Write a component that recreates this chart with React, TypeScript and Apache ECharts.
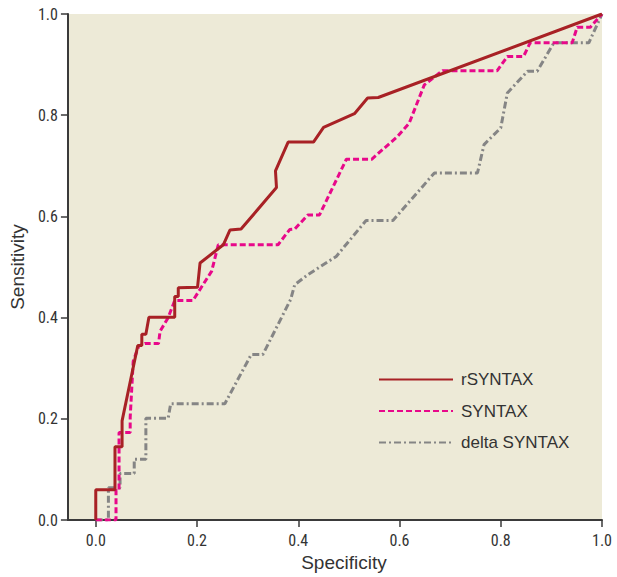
import React, { useEffect, useRef } from "react";
import * as echarts from "echarts";

const seriesNames = ["rSYNTAX", "SYNTAX", "delta SYNTAX"];

const rSyntaxSpec = [0, 0, 0.038, 0.038, 0.052, 0.052, 0.083, 0.091, 0.091, 0.099, 0.105, 0.156, 0.156, 0.163, 0.163, 0.201, 0.206, 0.252, 0.265, 0.287, 0.357, 0.355, 0.38, 0.43, 0.45, 0.511, 0.537, 0.558, 1];
const rSyntaxSens = [0, 0.06, 0.06, 0.145, 0.145, 0.196, 0.345, 0.345, 0.367, 0.367, 0.401, 0.401, 0.442, 0.442, 0.459, 0.46, 0.508, 0.544, 0.573, 0.575, 0.657, 0.69, 0.747, 0.747, 0.776, 0.803, 0.834, 0.835, 1];

const syntaxSpec = [0, 0.04, 0.04, 0.046, 0.046, 0.068, 0.068, 0.074, 0.085, 0.097, 0.124, 0.127, 0.143, 0.156, 0.192, 0.229, 0.242, 0.36, 0.383, 0.393, 0.419, 0.442, 0.495, 0.545, 0.596, 0.619, 0.649, 0.685, 0.793, 0.813, 0.845, 0.858, 0.941, 0.951, 0.977, 1];
const syntaxSens = [0, 0, 0.058, 0.058, 0.173, 0.173, 0.203, 0.314, 0.344, 0.349, 0.349, 0.373, 0.4, 0.434, 0.434, 0.492, 0.544, 0.544, 0.574, 0.575, 0.603, 0.603, 0.713, 0.713, 0.758, 0.784, 0.86, 0.888, 0.888, 0.916, 0.916, 0.943, 0.943, 0.974, 0.974, 1];

const deltaSpec = [0, 0.025, 0.025, 0.048, 0.048, 0.076, 0.076, 0.099, 0.099, 0.143, 0.148, 0.255, 0.307, 0.33, 0.385, 0.393, 0.419, 0.475, 0.534, 0.587, 0.669, 0.754, 0.767, 0.8, 0.813, 0.853, 0.872, 0.905, 0.974, 1];
const deltaSens = [0, 0, 0.064, 0.064, 0.092, 0.092, 0.12, 0.12, 0.201, 0.201, 0.23, 0.23, 0.327, 0.327, 0.436, 0.465, 0.485, 0.521, 0.592, 0.592, 0.686, 0.686, 0.742, 0.775, 0.844, 0.887, 0.887, 0.943, 0.943, 1];

const tickValues = [0, 0.2, 0.4, 0.6, 0.8, 1.0];

const pairs = (xs: number[], ys: number[]) => xs.map((x, i) => [x, ys[i]]);

const AXIS_COLOR = "#3a3a3a";
const NARROW = "'Liberation Sans Narrow', 'Roboto Condensed', Roboto, sans-serif";
const SANS = "'Liberation Sans', Arial, sans-serif";

export default function App() {
  const ref = useRef<HTMLDivElement>(null);
  useEffect(() => {
    if (!ref.current) return;
    const chart = echarts.init(ref.current, undefined, { renderer: "svg" });
    chart.setOption({
      animation: false,
      backgroundColor: "#ffffff",
      grid: {
        left: 66,
        right: 15,
        top: 14,
        bottom: 56,
        show: true,
        backgroundColor: "#edead7",
        borderWidth: 0,
      },
      legend: {
        orient: "vertical",
        left: 373,
        top: 366,
        itemWidth: 74,
        itemHeight: 14,
        itemGap: 14.5,
        data: seriesNames,
        itemStyle: { opacity: 0 },
        textStyle: { fontFamily: SANS, fontSize: 17, color: "#333", padding: [0, 0, 0, 3] },
      },
      xAxis: {
        type: "value",
        min: -0.055,
        max: 1,
        name: "Specificity",
        nameLocation: "middle",
        nameGap: 32,
        nameTextStyle: { fontFamily: SANS, fontSize: 19, color: "#333", padding: [0, 0, 0, 18] },
        axisLine: { show: true, onZero: false, lineStyle: { color: AXIS_COLOR, width: 2 } },
        axisTick: { show: true, length: 7, customValues: tickValues, lineStyle: { color: AXIS_COLOR, width: 1.5 } },
        axisLabel: {
          customValues: tickValues,
          formatter: (v: number) => v.toFixed(1),
          margin: 12,
          fontFamily: NARROW,
          fontSize: 16,
          color: "#333",
        },
        splitLine: { show: false },
      },
      yAxis: {
        type: "value",
        min: 0,
        max: 1,
        interval: 0.2,
        name: "Sensitivity",
        nameLocation: "middle",
        nameGap: 32,
        nameTextStyle: { fontFamily: SANS, fontSize: 19, color: "#333" },
        axisLine: { show: true, onZero: false, lineStyle: { color: AXIS_COLOR, width: 2 } },
        axisTick: { show: true, length: 7, lineStyle: { color: AXIS_COLOR, width: 1.5 } },
        axisLabel: {
          formatter: (v: number) => v.toFixed(1),
          margin: 10,
          fontFamily: NARROW,
          fontSize: 16,
          color: "#333",
        },
        splitLine: { show: false },
      },
      series: [
        {
          name: seriesNames[2],
          type: "line",
          data: pairs(deltaSpec, deltaSens),
          symbol: "none",
          z: 2,
          lineStyle: { color: "#858585", width: 3, type: [7, 3, 2, 3] },
          itemStyle: { color: "#858585" },
        },
        {
          name: seriesNames[1],
          type: "line",
          data: pairs(syntaxSpec, syntaxSens),
          symbol: "none",
          z: 3,
          lineStyle: { color: "#e8088a", width: 3, type: [6, 3] },
          itemStyle: { color: "#e8088a" },
        },
        {
          name: seriesNames[0],
          type: "line",
          data: pairs(rSyntaxSpec, rSyntaxSens),
          symbol: "none",
          z: 4,
          lineStyle: { color: "#a82125", width: 3 },
          itemStyle: { color: "#a82125" },
        },
      ],
    });
    return () => chart.dispose();
  }, []);
  return (
    <div
      ref={ref}
      style={{ position: "fixed", left: 0, top: 0, width: 617, height: 577 }}
    />
  );
}
